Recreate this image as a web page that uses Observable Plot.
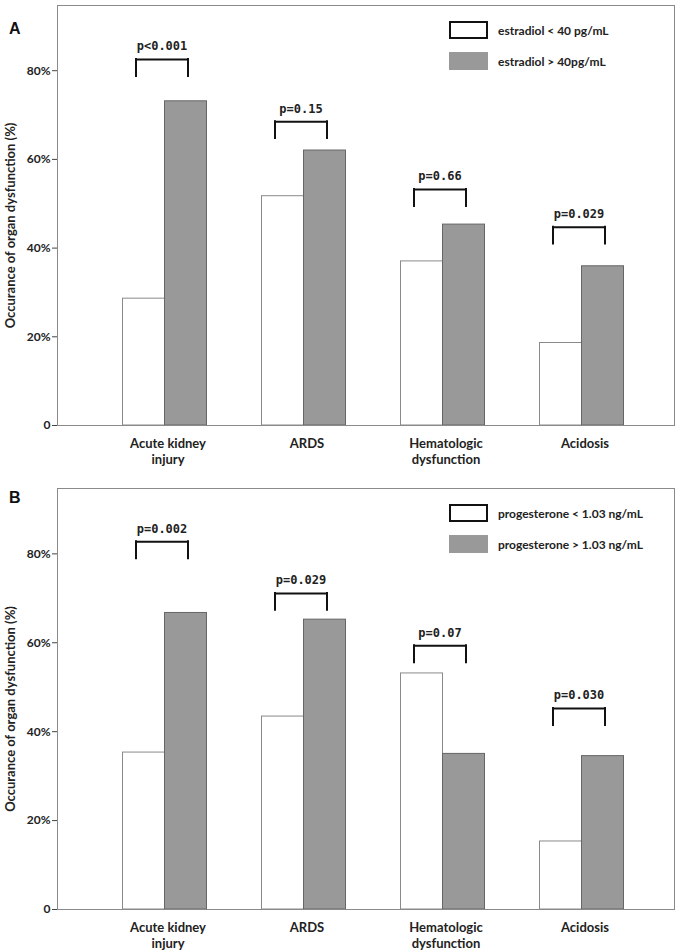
<!DOCTYPE html>
<html>
<head>
<meta charset="utf-8">
<script src="https://cdn.jsdelivr.net/npm/d3@7"></script>
<script src="https://cdn.jsdelivr.net/npm/@observablehq/plot@0.6"></script>
<style>
  html, body { margin: 0; padding: 0; background: #fff; }
  #root { position: relative; width: 678px; height: 950px; overflow: hidden; }
  .panel { position: relative; width: 678px; }
  .panel svg { display: block; }
  .letter { position: absolute; font-family: "Liberation Sans", Arial, sans-serif; font-weight: bold; font-size: 16px; line-height: 16px; color: #111; }
  .leg-row { position: absolute; left: 449px; height: 18px; display: flex; align-items: center; }
  .sw { width: 39px; height: 18px; box-sizing: border-box; margin-right: 10px; }
  .sw.low { background: #fff; border: 2px solid #111; }
  .sw.high { background: #999; }
  .leg-text { font-family: Lato, "Open Sans", sans-serif; font-weight: bold; font-size: 12px; color: #222; white-space: nowrap; }
</style>
</head>
<body>
<div id="root"></div>
<script>
// ---- data ----
const categories = ["Acute kidney injury", "ARDS", "Hematologic dysfunction", "Acidosis"];
const tickLabels = ["Acute kidney\ninjury", "ARDS", "Hematologic\ndysfunction", "Acidosis"];
const yTicks = [0, 20, 40, 60, 80];
const yLabel = "Occurance of organ dysfunction (%)";

const estradiolLow  = [28.6, 51.7, 37.0, 18.6];
const estradiolHigh = [73.1, 62.0, 45.3, 35.9];
const estradiolP    = ["p<0.001", "p=0.15", "p=0.66", "p=0.029"];
const estradiolBracket = [82.5, 68.5, 53.2, 44.7];
const estradiolLegend = ["estradiol < 40 pg/mL", "estradiol > 40pg/mL"];

const progLow  = [35.3, 43.4, 53.1, 15.3];
const progHigh = [66.7, 65.2, 35.0, 34.5];
const progP    = ["p=0.002", "p=0.029", "p=0.07", "p=0.030"];
const progBracket = [82.7, 71.1, 59.3, 45.2];
const progLegend = ["progesterone < 1.03 ng/mL", "progesterone > 1.03 ng/mL"];

// ---- drawing ----
function makePanel(letter, low, high, pvals, brackets, legend, height, marginBottom, letterTop) {
  const lowRows = categories.map((c, i) => ({cat: c, value: low[i]}));
  const highRows = categories.map((c, i) => ({cat: c, value: high[i]}));
  const br = categories.map((c, i) => ({cat: c, top: brackets[i], p: pvals[i]}));
  const leg = 3.8;
  const chart = Plot.plot({
    width: 678,
    height,
    marginTop: 5,
    marginLeft: 57,
    marginRight: 4,
    marginBottom,
    style: {fontFamily: "Lato, 'Open Sans', sans-serif", background: "#fff", color: "#222"},
    x: {domain: categories, range: [95.25, 651.25], padding: 0, label: null},
    y: {domain: [0, 94.7], label: null},
    marks: [
      Plot.barY(lowRows, {x: "cat", y: "value", fill: "#fff", stroke: "#8a8a8a", insetLeft: 48.5, insetRight: 48.5, dx: -21}),
      Plot.barY(highRows, {x: "cat", y: "value", fill: "#999", stroke: "#666", insetLeft: 48.5, insetRight: 48.5, dx: 21}),
      Plot.frame({stroke: "#8a8a8a"}),
      Plot.axisY({ticks: yTicks, tickFormat: d => d === 0 ? "0" : d + "%", tickSize: 5, tickPadding: 2, fontSize: 12, fontWeight: "bold", label: null, stroke: "#444"}),
      Plot.axisX({tickSize: 0, tickPadding: 11, tickFormat: d => tickLabels[categories.indexOf(d)], fontSize: 13, fontWeight: "bold", lineHeight: 1.25, label: null, dx: 3}),
      Plot.text([yLabel], {frameAnchor: "left", textAnchor: "middle", rotate: -90, dx: -47, dy: 10, text: d => d, fontSize: 13, fontWeight: "bold", fill: "#222"}),
      Plot.tickY(br, {x: "cat", y: "top", insetLeft: 43.5, insetRight: 43.5, dx: -3, stroke: "#111", strokeWidth: 2}),
      Plot.ruleX(br, {x: "cat", y1: "top", y2: d => d.top - leg, dx: -29, stroke: "#111", strokeWidth: 2, strokeLinecap: "square"}),
      Plot.ruleX(br, {x: "cat", y1: "top", y2: d => d.top - leg, dx: 23, stroke: "#111", strokeWidth: 2, strokeLinecap: "square"}),
      Plot.text(br, {x: "cat", y: "top", text: "p", dy: -13, dx: -3, fontFamily: "'DejaVu Sans Mono', monospace", fontWeight: "bold", fontSize: 12, fill: "#222"})
    ]
  });
  const panel = document.createElement("div");
  panel.className = "panel";
  panel.style.height = height + "px";
  panel.appendChild(chart);
  const L = document.createElement("div");
  L.className = "letter";
  L.style.left = "9px";
  L.style.top = letterTop + "px";
  L.textContent = letter;
  panel.appendChild(L);
  const tops = [21, 52];
  ["low", "high"].forEach((k, i) => {
    const row = document.createElement("div");
    row.className = "leg-row";
    row.style.top = tops[i] + "px";
    const sw = document.createElement("div");
    sw.className = "sw " + k;
    const tx = document.createElement("span");
    tx.className = "leg-text";
    tx.textContent = legend[i];
    row.appendChild(sw);
    row.appendChild(tx);
    panel.appendChild(row);
  });
  return panel;
}

const root = document.getElementById("root");
root.appendChild(makePanel("A", estradiolLow, estradiolHigh, estradiolP, estradiolBracket, estradiolLegend, 483, 58, 21));
root.appendChild(makePanel("B", progLow, progHigh, progP, progBracket, progLegend, 467, 41, 7));
</script>
</body>
</html>
